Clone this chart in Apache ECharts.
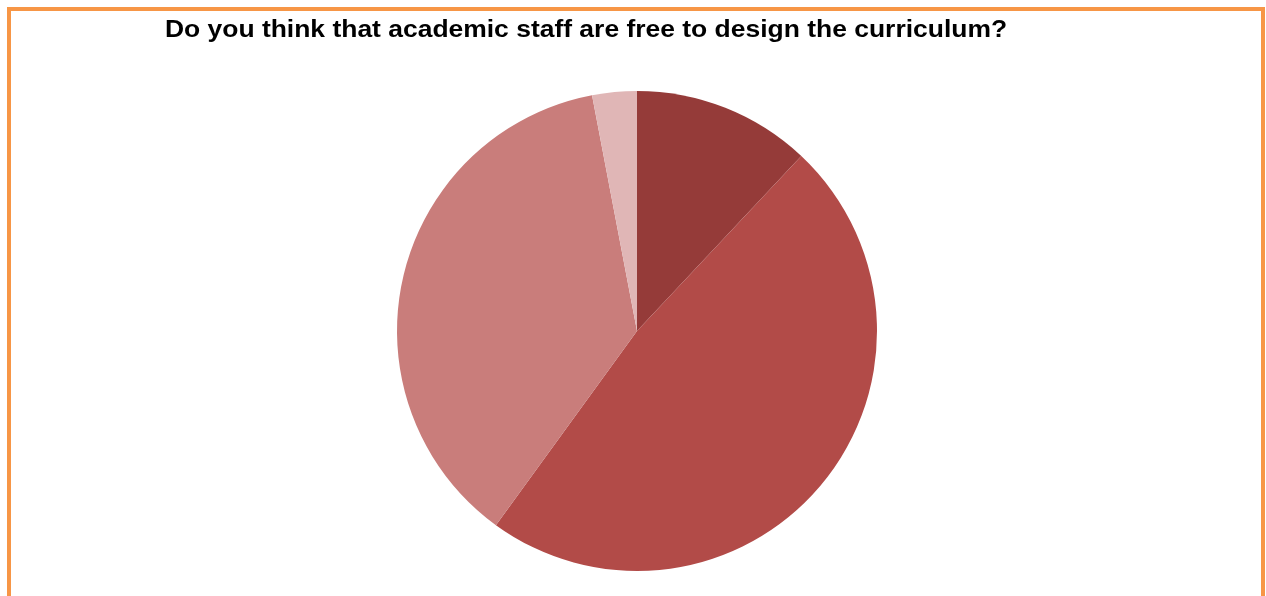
<!DOCTYPE html>
<html><head><meta charset="utf-8">
<script src="https://cdn.jsdelivr.net/npm/echarts@6/dist/echarts.min.js"></script>
<style>html,body{margin:0;padding:0;background:#fff;}#c{width:1266px;height:596px;}</style>
</head><body><div id="c"></div>
<script>
const titleText = 'Do you think that academic staff are free to design the curriculum?';
const categories = ['Slice 1', 'Slice 2', 'Slice 3', 'Slice 4'];
const values = [12, 48, 37, 3];
const colors = ['#953B39', '#B24B48', '#C97D7B', '#E0B6B6'];

const chart = echarts.init(document.getElementById('c'));
chart.setOption({
  animation: false,
  backgroundColor: '#fff',
  graphic: [{
    type: 'rect', shape: {x: 9, y: 9, width: 1254, height: 700},
    style: {fill: 'none', stroke: '#F79646', lineWidth: 4}, silent: true, z: -1
  }, {
    type: 'text', x: 586, y: 19, scaleX: 1.15, silent: true,
    style: {text: titleText, align: 'center', verticalAlign: 'top',
      font: 'bold 23px "Liberation Sans", Arial, sans-serif', fill: '#000'}
  }],
  series: [{
    type: 'pie', center: [637, 331], radius: 240, startAngle: 90, clockwise: true,
    label: {show: false}, labelLine: {show: false}, silent: true,
    itemStyle: {borderWidth: 0},
    data: categories.map((c, i) => ({name: c, value: values[i], itemStyle: {color: colors[i]}}))
  }]
});
</script></body></html>
